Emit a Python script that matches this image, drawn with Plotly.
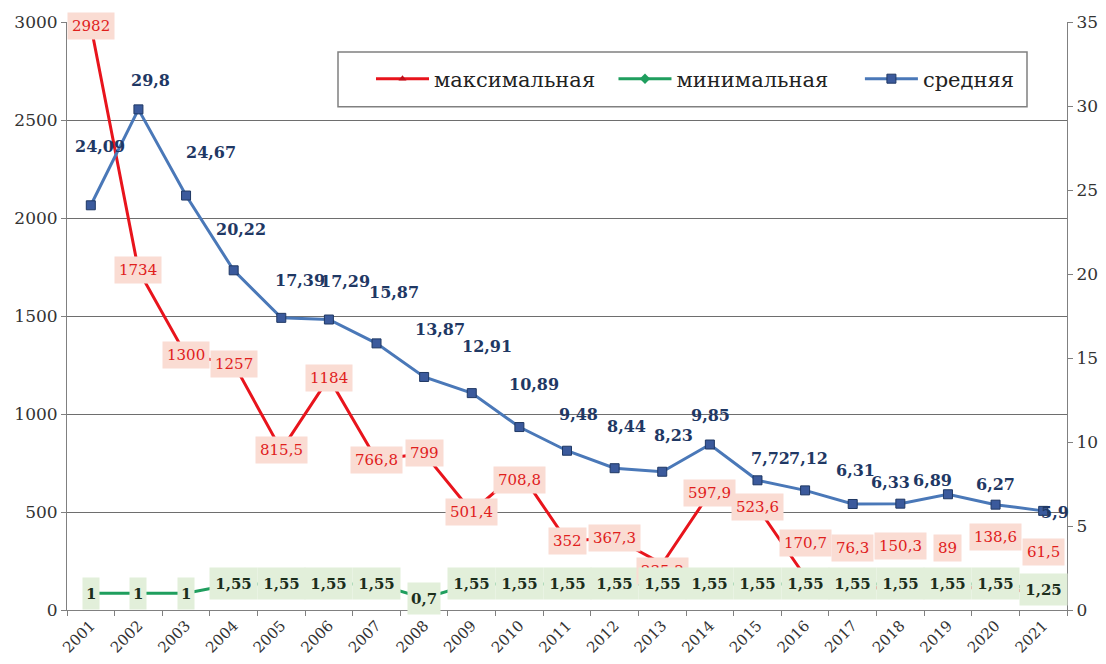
import plotly.graph_objects as go

# data
years = [str(y) for y in range(2001, 2022)]
max_vals = [2982, 1734, 1300, 1257, 815.5, 1184, 766.8, 799, 501.4, 708.8, 352,
            367.3, 235.2, 597.9, 523.6, 170.7, 76.3, 150.3, 89, 138.6, 61.5]
min_vals = [1, 1, 1, 1.55, 1.55, 1.55, 1.55, 0.7, 1.55, 1.55, 1.55,
            1.55, 1.55, 1.55, 1.55, 1.55, 1.55, 1.55, 1.55, 1.55, 1.25]
avg_vals = [24.09, 29.8, 24.67, 20.22, 17.39, 17.29, 15.87, 13.87, 12.91, 10.89,
            9.48, 8.44, 8.23, 9.85, 7.72, 7.12, 6.31, 6.33, 6.89, 6.27, 5.9]

# label offsets (pixels), as hand-placed in the original
max_shift_y = [0, 0, 0, 0, 0, 0, 0, 0, 0, -9, 0, 0, -7, 0, 0, 34, 47, 35, 45, 46, 46]
avg_shift_x = [9, 12, 25, 7, 19, 16, 17, 16, 15, 15, 11, 12, 11, 1, 13, 3, 3, -10, -15, 0, 12]
avg_shift_y = [59, 29, 43, 41, 37, 38, 51, 47, 47, 43, 36, 42, 36, 29, 22, 32, 33, 21, 14, 20, -2]

FONT = "DejaVu Serif"
NB = "\u00a0"  # padding so legend entries spread like the original


def fmt(v):
    return f"{v:g}".replace(".", ",")


fig = go.Figure()
fig.add_trace(go.Scatter(x=years, y=max_vals, name="максимальная" + NB * 2,
                         mode="lines+markers", line=dict(color="#e8141c", width=3),
                         marker=dict(symbol="triangle-up", size=7, color="#c0101a")))
fig.add_trace(go.Scatter(x=years, y=min_vals, name="минимальная" + NB * 4,
                         mode="lines+markers", yaxis="y2",
                         line=dict(color="#1f9e5e", width=3),
                         marker=dict(symbol="diamond", size=8, color="#1f9e5e")))
fig.add_trace(go.Scatter(x=years, y=avg_vals, name="средняя", mode="lines+markers",
                         yaxis="y2", line=dict(color="#4a78b8", width=3),
                         marker=dict(symbol="square", size=9, color="#3b5a9c",
                                     line=dict(color="#1f3864", width=1))))

annotations = []
for i in range(len(years)):
    annotations.append(dict(x=i, y=max_vals[i], yref="y", text=fmt(max_vals[i]),
                            showarrow=False, yshift=max_shift_y[i],
                            font=dict(family=FONT, size=15, color="#e0201c"),
                            bgcolor="#fadcd3", borderpad=4))
    txt = fmt(min_vals[i])
    annotations.append(dict(x=i, y=min_vals[i], yref="y2", text="<b>" + txt + "</b>",
                            showarrow=False, width=41 if len(txt) > 3 else None,
                            height=25, borderpad=3,
                            font=dict(family=FONT, size=15, color="#1c2e1c"),
                            bgcolor="#e2efda"))
    annotations.append(dict(x=i, y=avg_vals[i], yref="y2", text="<b>" + fmt(avg_vals[i]) + "</b>",
                            showarrow=False, xshift=avg_shift_x[i], yshift=avg_shift_y[i],
                            font=dict(family=FONT, size=16, color="#1f3864")))

# the page body adds an 8px margin, so the figure is a bit smaller than the window
fig.update_layout(
    width=1090, height=648,
    margin=dict(l=59, r=31, t=14, b=46),
    paper_bgcolor="white", plot_bgcolor="white",
    font=dict(family=FONT, size=17, color="#333333"),
    annotations=annotations,
    xaxis=dict(type="category", range=[-0.5, 20.5], showgrid=False, showline=True,
               linecolor="#808080", ticks="outside", tickson="boundaries", ticklen=5,
               tickcolor="#808080", tickangle=-45, tickfont=dict(size=15),
               automargin=False),
    yaxis=dict(range=[0, 3000], dtick=500, showgrid=True, gridcolor="#6e6e6e",
               showline=True, linecolor="#808080", ticks="outside", ticklen=5,
               tickcolor="#808080", zeroline=False, automargin=False),
    yaxis2=dict(range=[0, 35], dtick=5, overlaying="y", side="right", showgrid=False,
                showline=True, linecolor="#808080", ticks="outside", ticklen=5,
                tickcolor="#808080", zeroline=False, automargin=False),
    legend=dict(orientation="h", x=0.304, y=0.903, xanchor="left", yanchor="middle",
                borderwidth=0, bgcolor="rgba(0,0,0,0)",
                font=dict(family=FONT, size=21, color="#222222"),
                itemwidth=53, tracegroupgap=0),
    shapes=[dict(type="rect", xref="paper", yref="paper", x0=0.271, x1=0.960,
                 y0=0.856, y1=0.949, line=dict(color="#808080", width=1.5),
                 fillcolor="white", layer="below")],
    showlegend=True,
)

fig.write_html("out.html")
